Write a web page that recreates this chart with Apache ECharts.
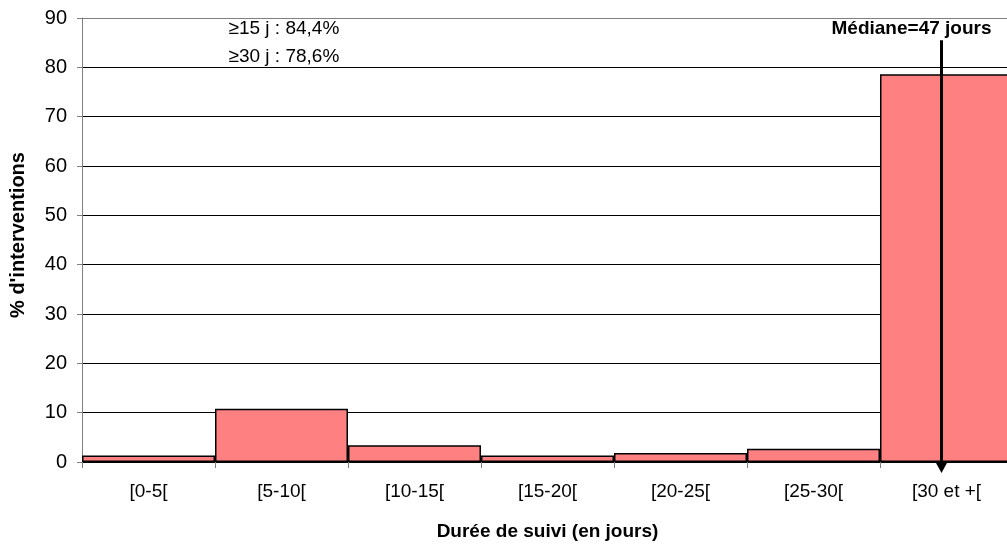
<!DOCTYPE html>
<html><head><meta charset="utf-8">
<script src="https://cdn.jsdelivr.net/npm/echarts@6/dist/echarts.min.js"></script>
<style>html,body{margin:0;padding:0;background:#fff}#c{width:1007px;height:548px}</style>
</head><body><div id="c"></div>
<script>
const categories = ['[0-5[', '[5-10[', '[10-15[', '[15-20[', '[20-25[', '[25-30[', '[30 et +['];
const values = [1.3, 10.8, 3.4, 1.3, 1.8, 2.7, 78.6];
const yTicks = { min: 0, max: 90, interval: 10 };
const notes = ['≥15 j : 84,4%', '≥30 j : 78,6%'];
const medianLabel = 'Médiane=47 jours';
const medianCategory = '[30 et +[';
const medianTop = 85.5;

const F = '"Liberation Sans", Arial, sans-serif';
const chart = echarts.init(document.getElementById('c'));
const splitColors = [];
for (let v = yTicks.min; v <= yTicks.max; v += yTicks.interval) splitColors.push(v === yTicks.max ? '#808080' : '#000');

chart.setOption({
  animation: false,
  grid: { left: 82, top: 18, width: 931, height: 444, containLabel: false, outerBoundsMode: 'none' },
  xAxis: {
    type: 'category', data: categories,
    axisLine: { lineStyle: { color: '#000', width: 1 } },
    axisTick: { show: true, length: 6, lineStyle: { color: '#808080' } },
    axisLabel: { color: '#000', fontSize: 19, fontFamily: F, margin: 20 },
    name: 'Durée de suivi (en jours)', nameLocation: 'middle', nameGap: 60,
    nameTextStyle: { color: '#000', fontSize: 19, fontWeight: 'bold', fontFamily: F }
  },
  yAxis: {
    type: 'value', min: yTicks.min, max: yTicks.max, interval: yTicks.interval,
    axisLine: { show: true, lineStyle: { color: '#808080' } },
    axisTick: { show: true, length: 5, lineStyle: { color: '#808080' } },
    axisLabel: { color: '#000', fontSize: 20, fontFamily: F, margin: 15 },
    splitLine: { show: true, lineStyle: { color: splitColors, width: 1 } },
    name: "% d'interventions", nameLocation: 'middle', nameGap: 54, nameRotate: 90,
    nameTextStyle: { color: '#000', fontSize: 20, fontWeight: 'bold', fontFamily: F, padding: [0, 0, 0, 10] }
  },
  series: [{
    type: 'bar', data: values, barCategoryGap: 0,
    itemStyle: { color: '#FF8080', borderColor: '#000', borderWidth: 1.5 }
  }]
});

function drawOverlay() {
  const x = chart.convertToPixel({ xAxisIndex: 0 }, medianCategory) - 5;
  const yTop = chart.convertToPixel({ yAxisIndex: 0 }, medianTop);
  const y0 = chart.convertToPixel({ yAxisIndex: 0 }, 0);
  const xNote = chart.convertToPixel({ xAxisIndex: 0 }, categories[1]) - 53;
  chart.setOption({
    graphic: [
      { type: 'line', shape: { x1: x, y1: yTop, x2: x, y2: y0 + 1 }, style: { stroke: '#000', lineWidth: 3 }, z: 100 },
      { type: 'polygon', shape: { points: [[x - 6, y0], [x + 6, y0], [x, y0 + 11]] }, style: { fill: '#000' }, z: 100 },
      { type: 'text', x: x - 30, y: 29, style: { text: medianLabel, font: 'bold 19px ' + F, fill: '#000', textAlign: 'center', textVerticalAlign: 'middle' }, z: 100 },
      { type: 'text', x: xNote, y: 29, style: { text: notes[0], font: '19px ' + F, fill: '#000', textAlign: 'left', textVerticalAlign: 'middle' }, z: 100 },
      { type: 'text', x: xNote, y: 57, style: { text: notes[1], font: '19px ' + F, fill: '#000', textAlign: 'left', textVerticalAlign: 'middle' }, z: 100 }
    ]
  });
}
drawOverlay();
</script></body></html>
